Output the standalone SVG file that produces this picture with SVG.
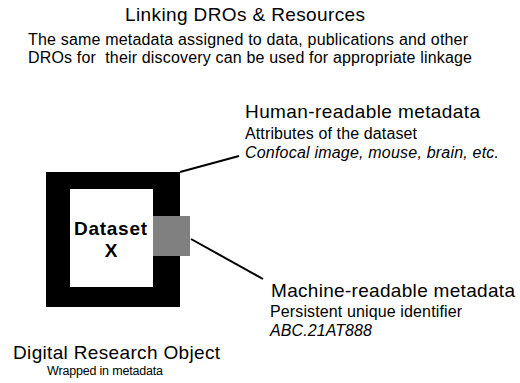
<svg xmlns="http://www.w3.org/2000/svg" width="520" height="383" viewBox="0 0 520 383">
<style>
text{font-family:"Liberation Sans",Arial,sans-serif;fill:#000}
.h{font-size:19px}
.s{font-size:16px}
.i{font-style:italic}
.b{font-weight:bold;font-size:19px}
.c{stroke:#000;stroke-width:2;fill:none}
</style>
<rect width="520" height="383" fill="#fff"/>
<g id="title">
<text class="h" x="125" y="21" textLength="240" lengthAdjust="spacing">Linking DROs &amp; Resources</text>
<text class="s" x="28" y="45" textLength="440" lengthAdjust="spacing">The same metadata assigned to data, publications and other</text>
<text class="s" x="28" y="63" textLength="444" lengthAdjust="spacing" xml:space="preserve">DROs for  their discovery can be used for appropriate linkage</text>
</g>
<g id="connectors">
<line class="c" x1="180" y1="172" x2="239" y2="156"/>
<line class="c" x1="191" y1="239" x2="263" y2="279"/>
</g>
<g id="dro">
<rect x="46" y="172" width="134" height="135" fill="#000"/>
<rect x="70" y="189" width="83" height="98" fill="#fff"/>
<text class="b" x="74" y="235" textLength="73" lengthAdjust="spacing">Dataset</text>
<text class="b" x="111" y="257" text-anchor="middle">X</text>
</g>
<g id="identifier">
<rect x="153" y="216" width="37" height="40" fill="#808080"/>
</g>
<g id="human">
<text class="h" x="245" y="118" textLength="235" lengthAdjust="spacing">Human-readable metadata</text>
<text class="s" x="245" y="139" textLength="172" lengthAdjust="spacing">Attributes of the dataset</text>
<text class="s i" x="245" y="158" textLength="254" lengthAdjust="spacing">Confocal image, mouse, brain, etc.</text>
</g>
<g id="machine">
<text class="h" x="271" y="297" textLength="244" lengthAdjust="spacing">Machine-readable metadata</text>
<text class="s" x="270" y="317" textLength="192" lengthAdjust="spacing">Persistent unique identifier</text>
<text class="s i" x="270" y="336" textLength="102" lengthAdjust="spacing">ABC.21AT888</text>
</g>
<g id="label">
<text class="h" x="13" y="359" textLength="207" lengthAdjust="spacing">Digital Research Object</text>
<text style="font-size:12.5px" x="47" y="375" textLength="116" lengthAdjust="spacing">Wrapped in metadata</text>
</g>
</svg>
